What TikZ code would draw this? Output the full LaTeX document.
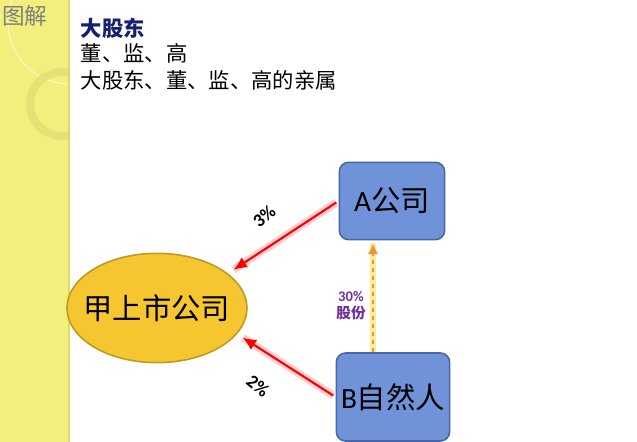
\documentclass[tikz,border=0pt]{standalone}
\usepackage{fontspec}
\setmainfont{Carlito}
\newfontfamily\cjk{Noto Sans CJK SC}
\usetikzlibrary{arrows.meta,positioning,calc,shapes.geometric}
\definecolor{stripyellow}{RGB}{243,239,125}
\definecolor{stripedge}{RGB}{222,216,110}
\definecolor{titleblue}{RGB}{22,32,110}
\definecolor{boxfill}{RGB}{111,146,216}
\definecolor{boxline}{RGB}{72,102,170}
\definecolor{ovalfill}{RGB}{245,198,48}
\definecolor{ovalline}{RGB}{190,155,32}
\definecolor{sharepurple}{RGB}{112,48,160}
\definecolor{dashorange}{RGB}{238,148,62}
\definecolor{dashglow}{RGB}{255,238,150}

\begin{document}
\begin{tikzpicture}[
        x=0.75pt, y=0.75pt,
        box/.style={draw=boxline, fill=boxfill, rounded corners=7pt, line width=1.2pt, inner sep=0pt, font=\fontsize{22}{26}\selectfont},
        oval/.style={ellipse, draw=ovalline, fill=ovalfill, line width=1.2pt, inner xsep=-8pt, inner ysep=0pt, font=\cjk\fontsize{22}{26}\selectfont},
        hold/.style={-{Latex[length=10pt,width=9pt]}, red, line width=1.6pt, preaction={draw=red!30, line width=6pt, opacity=0.6, arrows=-}},
        share/.style={-{Latex[length=8pt,width=8pt]}, dashorange, dashed, line width=1.8pt, preaction={draw=dashglow, solid, line width=5pt, arrows=-}},
        pct/.style={font=\bfseries\fontsize{14}{16}\selectfont},
        headline/.style={anchor=west, font=\cjk\fontsize{16}{19}\selectfont}
    ]
        \useasboundingbox (0,0) rectangle (637,442);
        % left strip
        \fill[stripyellow] (0,0) rectangle (69,442);
        \begin{scope}
            \clip (0,0) rectangle (69,442);
            \draw[white, opacity=0.5, line width=0.8pt] (70,420) circle (62);
            \draw[stripedge, opacity=0.6, line width=6pt] (62,338) circle (32);
        \end{scope}
        \draw[stripedge, line width=1pt] (69,0) -- (69,442);
        \node[text=gray, font=\cjk\fontsize{17}{20}\selectfont] (tag) at (25,426) {图解};
        % headings
        \node[headline, text=titleblue, font=\cjk\bfseries\fontsize{16}{19}\selectfont] (h1) at (76,414) {大股东};
        \node[headline] (h2) at (76,389) {董、监、高};
        \node[headline] (h3) at (76,362) {大股东、董、监、高的亲属};
        % nodes
        \node[oval, minimum width=135pt, minimum height=82pt] (co) at (157,134) {甲上市公司};
        \node[box, minimum width=79pt, minimum height=58pt] (A) at (392,241) {A{\cjk 公司}};
        \node[box, minimum width=85pt, minimum height=66pt] (B) at (393,45) {B{\cjk 自然人}};
        % links
        \draw[hold, shorten >=5pt, shorten <=2pt] (A.west) -- (co.26);
        \draw[hold, shorten >=5pt, shorten <=2pt] (B.west) -- (co.-18);
        \draw[share] ($(B.north)+(-20,0)$) -- ($(A.south)+(-19,-3)$);
        \node[pct, rotate=40] (p3) at (264,226) {3\%};
        \node[pct, rotate=-40] (p2) at (258,56) {2\%};
        \node[pct, text=sharepurple, align=center, font=\bfseries\fontsize{11}{13}\selectfont] (p30) at (351,136) {30\%\\{\cjk 股份}};
    \end{tikzpicture}
\end{document}
